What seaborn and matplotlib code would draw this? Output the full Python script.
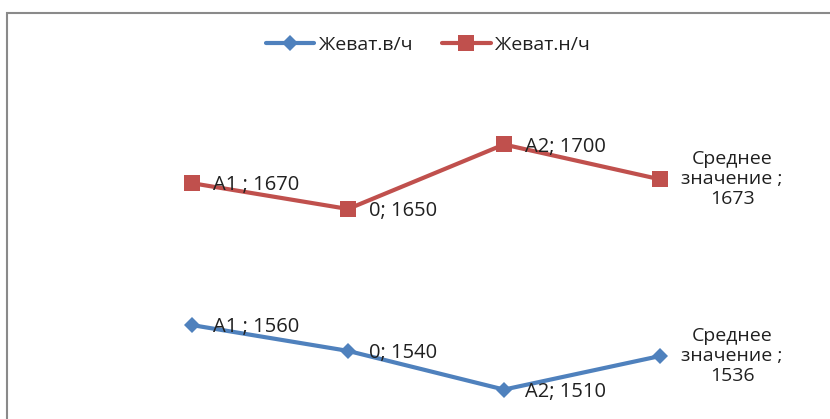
import matplotlib
matplotlib.use("Agg")
import matplotlib.pyplot as plt
import matplotlib.patches as mpatches
from matplotlib.lines import Line2D
import seaborn as sns
import pandas as pd

categories = ["A1 ", "0", "A2", "Среднее значение "]
series_names = ["Жеват.в/ч", "Жеват.н/ч"]
upper_values = [1670, 1650, 1700, 1673]   # Жеват.н/ч
lower_values = [1560, 1540, 1510, 1536]   # Жеват.в/ч

blue = "#4F81BD"
red = "#C0504D"
text_color = "#202020"

sns.set_theme(style="white")
plt.rcParams["font.family"] = ["Open Sans", "DejaVu Sans"]

fig = plt.figure(figsize=(8.30, 4.19), dpi=100)
ax = fig.add_axes([0, 0, 1, 1])

df = pd.DataFrame({
    "pos": list(range(len(categories))) * 2,
    "cat": categories * 2,
    "value": lower_values + upper_values,
    "series": [series_names[0]] * 4 + [series_names[1]] * 4,
})

styles = {
    series_names[0]: dict(color=blue, marker="D", ms=8.5),
    series_names[1]: dict(color=red, marker="s", ms=11),
}

for name, sub in df.groupby("series", sort=False):
    st = styles[name]
    sns.lineplot(data=sub, x="pos", y="value", ax=ax, color=st["color"],
                 linewidth=3, marker=st["marker"], markersize=st["ms"],
                 markeredgewidth=0, legend=False)
    for _, row in sub.iterrows():
        if row["pos"] == len(categories) - 1:
            words = row["cat"].split()
            label = f"{words[0]}\n{words[1]} ;\n{row['value']}"
            ax.annotate(label, (row["pos"], row["value"]), xytext=(52, 0),
                        textcoords="offset points", ha="center", va="center",
                        fontsize=14, color=text_color, linespacing=1.15)
        else:
            label = f"{row['cat']}; {row['value']}"
            ax.annotate(label, (row["pos"], row["value"]), xytext=(15, -1.5),
                        textcoords="offset points", ha="left", va="center",
                        fontsize=14.5, color=text_color)

ax.set_xlim(-1.231, 4.090)
ax.set_ylim(1487.2, 1812.0)
ax.axis("off")

# outer chart border
fig.patches.append(mpatches.Rectangle((7 / 830, -0.2), 1.2, 0.2 + (1 - 13 / 419),
                                      transform=fig.transFigure, fill=False,
                                      edgecolor="#8a8a8a", linewidth=1.5))

handles = [
    Line2D([], [], color=blue, lw=3, marker="D", ms=8.5, markeredgewidth=0),
    Line2D([], [], color=red, lw=3, marker="s", ms=11, markeredgewidth=0),
]
leg = fig.legend(handles, series_names, loc="center", bbox_to_anchor=(428 / 830, 1 - 45 / 419),
                 ncol=2, frameon=False, handlelength=2.5, handletextpad=0.25,
                 columnspacing=1.5, prop={"family": ["Open Sans", "DejaVu Sans"], "size": 14})
for t in leg.get_texts():
    t.set_color(text_color)

fig.savefig("out.png", dpi=100, facecolor="white")
